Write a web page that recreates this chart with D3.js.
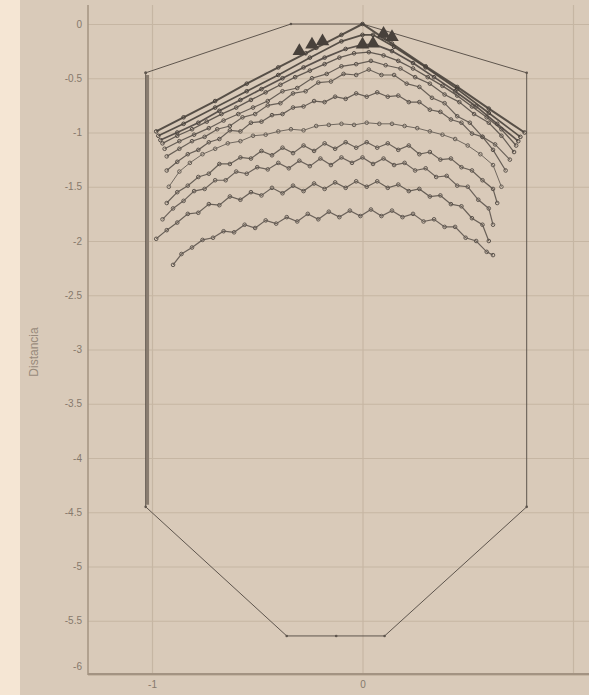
<!DOCTYPE html>
<html lang="es">

<head>
    <meta charset="UTF-8">
    <script src="https://d3js.org/d3.v7.min.js"></script>
    <title>perfiles</title>
    <style>
        body { margin: 0; background: #f5e6d4; }
        svg { display: block; }
    </style>
</head>

<body>
    <script>
        var w = 589,
            h = 695;

        // ticks
        var yTicks = [0, -0.5, -1, -1.5, -2, -2.5, -3, -3.5, -4, -4.5, -5, -5.5, -6];
        var xTicks = [-1, 0, 1];
        var xTickLabels = ["-1", "0", ""];
        var yTitulo = "Distancia";

        // contorno del molino
        var contorno = [[-1.03, -0.45], [-0.34, 0], [0, 0], [0.78, -0.45], [0.78, -4.45], [0.105, -5.64],
            [-0.125, -5.64], [-0.36, -5.64], [-1.03, -4.45], [-1.03, -0.45]];
        var manto = [[-1.021, -0.47], [-1.021, -4.43]];

        // perfiles medidos
        var serieA = [[-0.98, -0.99], [-0.85, -0.86], [-0.7, -0.71], [-0.55, -0.55], [-0.4, -0.4], [-0.27, -0.27],
            [-0.22, -0.22], [-0.1, -0.1], [0, 0], [0.1, -0.13], [0.14, -0.18], [0.3, -0.39], [0.45, -0.58],
            [0.6, -0.78], [0.77, -1.0]];
        var serieB = [[-0.97, -1.03], [-0.85, -0.92], [-0.7, -0.77], [-0.55, -0.62], [-0.4, -0.47], [-0.25, -0.31],
            [-0.1, -0.16], [0, -0.1], [0.05, -0.1], [0.15, -0.21], [0.3, -0.4], [0.45, -0.6], [0.6, -0.82],
            [0.75, -1.04]];
        var serieC = [[-0.96, -1.07], [-0.88, -1.0], [-0.78, -0.91], [-0.68, -0.8], [-0.58, -0.7], [-0.48, -0.6],
            [-0.38, -0.5], [-0.28, -0.4], [-0.18, -0.31], [-0.08, -0.23], [0, -0.19], [0.06, -0.19],
            [0.14, -0.25], [0.24, -0.36], [0.34, -0.49], [0.44, -0.62], [0.54, -0.76], [0.64, -0.92],
            [0.74, -1.08]];
        var serieD = [[-0.95, -1.1], [-0.88, -1.03], [-0.81, -0.97], [-0.74, -0.9], [-0.67, -0.83], [-0.6, -0.77],
            [-0.53, -0.7], [-0.46, -0.63], [-0.39, -0.56], [-0.32, -0.49], [-0.25, -0.43], [-0.18, -0.37],
            [-0.11, -0.31], [-0.04, -0.27], [0.03, -0.26], [0.1, -0.29], [0.17, -0.34], [0.24, -0.41],
            [0.31, -0.49], [0.38, -0.57], [0.45, -0.66], [0.52, -0.76], [0.59, -0.86], [0.66, -0.97],
            [0.73, -1.12]];
        var serieE = [[-0.94, -1.15], [-0.87, -1.08], [-0.8, -1.02], [-0.73, -0.96], [-0.66, -0.89], [-0.59, -0.83],
            [-0.52, -0.77], [-0.45, -0.71], [-0.38, -0.62], [-0.31, -0.59], [-0.24, -0.5], [-0.17, -0.46],
            [-0.1, -0.39], [-0.03, -0.37], [0.04, -0.34], [0.11, -0.38], [0.18, -0.41], [0.25, -0.49],
            [0.32, -0.55], [0.39, -0.65], [0.46, -0.72], [0.53, -0.83], [0.6, -0.91], [0.66, -1.03],
            [0.72, -1.18]];
        var serieF = [[-0.93, -1.22], [-0.87, -1.15], [-0.81, -1.08], [-0.75, -1.04], [-0.69, -0.97], [-0.63, -0.94],
            [-0.57, -0.86], [-0.51, -0.83], [-0.45, -0.75], [-0.39, -0.73], [-0.33, -0.64], [-0.27, -0.62],
            [-0.21, -0.54], [-0.15, -0.53], [-0.09, -0.46], [-0.03, -0.47], [0.03, -0.42], [0.09, -0.47],
            [0.15, -0.47], [0.21, -0.55], [0.27, -0.58], [0.33, -0.68], [0.39, -0.73], [0.45, -0.85],
            [0.51, -0.91], [0.57, -1.04], [0.63, -1.11], [0.7, -1.25]];
        var serieG = [[-0.93, -1.35], [-0.88, -1.27], [-0.83, -1.2], [-0.78, -1.16], [-0.73, -1.09], [-0.68, -1.06],
            [-0.63, -0.98], [-0.58, -0.99], [-0.53, -0.91], [-0.48, -0.9], [-0.43, -0.84], [-0.38, -0.83],
            [-0.33, -0.77], [-0.28, -0.76], [-0.23, -0.71], [-0.18, -0.72], [-0.13, -0.67], [-0.08, -0.69],
            [-0.03, -0.64], [0.02, -0.67], [0.07, -0.63], [0.12, -0.67], [0.17, -0.66], [0.22, -0.72],
            [0.27, -0.72], [0.32, -0.79], [0.37, -0.81], [0.42, -0.88], [0.47, -0.91], [0.52, -1.01],
            [0.57, -1.04], [0.62, -1.16], [0.68, -1.35]];
        var serieH = [[-0.92, -1.5], [-0.87, -1.36], [-0.82, -1.28], [-0.76, -1.2], [-0.7, -1.15], [-0.64, -1.1],
            [-0.58, -1.08], [-0.52, -1.03], [-0.46, -1.02], [-0.4, -0.99], [-0.34, -0.97], [-0.28, -0.98],
            [-0.22, -0.94], [-0.16, -0.93], [-0.1, -0.92], [-0.04, -0.93], [0.02, -0.91], [0.08, -0.92],
            [0.14, -0.92], [0.2, -0.94], [0.26, -0.96], [0.32, -0.99], [0.38, -1.02], [0.44, -1.06],
            [0.5, -1.12], [0.56, -1.2], [0.62, -1.3], [0.66, -1.5]];
        var serieI = [[-0.93, -1.65], [-0.88, -1.55], [-0.83, -1.49], [-0.78, -1.41], [-0.73, -1.38], [-0.68, -1.29],
            [-0.63, -1.29], [-0.58, -1.23], [-0.53, -1.24], [-0.48, -1.17], [-0.43, -1.21], [-0.38, -1.14],
            [-0.33, -1.19], [-0.28, -1.12], [-0.23, -1.17], [-0.18, -1.1], [-0.13, -1.15], [-0.08, -1.09],
            [-0.03, -1.14], [0.02, -1.09], [0.07, -1.14], [0.12, -1.1], [0.17, -1.16], [0.22, -1.12],
            [0.27, -1.2], [0.32, -1.18], [0.37, -1.25], [0.42, -1.24], [0.47, -1.32], [0.52, -1.35],
            [0.57, -1.44], [0.62, -1.52], [0.64, -1.65]];
        var serieJ = [[-0.95, -1.8], [-0.9, -1.7], [-0.85, -1.63], [-0.8, -1.54], [-0.75, -1.52], [-0.7, -1.44],
            [-0.65, -1.44], [-0.6, -1.36], [-0.55, -1.38], [-0.5, -1.32], [-0.45, -1.34], [-0.4, -1.28],
            [-0.35, -1.33], [-0.3, -1.26], [-0.25, -1.31], [-0.2, -1.24], [-0.15, -1.3], [-0.1, -1.23],
            [-0.05, -1.28], [0, -1.23], [0.05, -1.29], [0.1, -1.24], [0.15, -1.3], [0.2, -1.28],
            [0.25, -1.35], [0.3, -1.33], [0.35, -1.41], [0.4, -1.4], [0.45, -1.49], [0.5, -1.5],
            [0.55, -1.62], [0.6, -1.7], [0.62, -1.85]];
        var serieK = [[-0.98, -1.98], [-0.93, -1.9], [-0.88, -1.83], [-0.83, -1.75], [-0.78, -1.74], [-0.73, -1.66],
            [-0.68, -1.67], [-0.63, -1.59], [-0.58, -1.62], [-0.53, -1.55], [-0.48, -1.58], [-0.43, -1.51],
            [-0.38, -1.56], [-0.33, -1.49], [-0.28, -1.54], [-0.23, -1.47], [-0.18, -1.52], [-0.13, -1.46],
            [-0.08, -1.51], [-0.03, -1.45], [0.02, -1.5], [0.07, -1.45], [0.12, -1.51], [0.17, -1.48],
            [0.22, -1.54], [0.27, -1.52], [0.32, -1.59], [0.37, -1.58], [0.42, -1.66], [0.47, -1.68],
            [0.52, -1.79], [0.57, -1.85], [0.6, -2.0]];
        var serieL = [[-0.9, -2.22], [-0.86, -2.12], [-0.81, -2.06], [-0.76, -1.99], [-0.71, -1.97], [-0.66, -1.91],
            [-0.61, -1.92], [-0.56, -1.85], [-0.51, -1.88], [-0.46, -1.81], [-0.41, -1.84], [-0.36, -1.78],
            [-0.31, -1.82], [-0.26, -1.75], [-0.21, -1.8], [-0.16, -1.73], [-0.11, -1.78], [-0.06, -1.72],
            [-0.01, -1.77], [0.04, -1.71], [0.09, -1.77], [0.14, -1.72], [0.19, -1.78], [0.24, -1.75],
            [0.29, -1.82], [0.34, -1.8], [0.39, -1.87], [0.44, -1.87], [0.49, -1.97], [0.54, -2.0],
            [0.59, -2.1], [0.62, -2.13]];

        // marcas triangulares
        var triangulos = [[-0.3, -0.25], [-0.24, -0.19], [-0.19, -0.16], [0.1, -0.09], [0.14, -0.12], [0, -0.19],
            [0.05, -0.18]];

        var series = [serieA, serieB, serieC, serieD, serieE, serieF, serieG, serieH, serieI, serieJ, serieK, serieL];
        // estilos por serie (aparte de los datos)
        var colores = ["#48413b", "#48413b", "#4c4540", "#544c46", "#59514a", "#5c544d", "#5a524b", "#655d55",
            "#5c544d", "#5f5750", "#5c544d", "#5f5750"];
        var grosor = [2, 1.7, 1.7, 1.3, 1.2, 1.2, 1.2, 1, 1.2, 1.2, 1.2, 1.2];

        var x = d3.scaleLinear().domain([-1, 1]).range([152, 573]);
        var y = d3.scaleLinear().domain([-6, 0]).range([675, 24]);
        var x0 = 88, yTop = 5, yBot = 674;

        var svg = d3.select("body").append("svg").attr("width", w).attr("height", h);

        // fondo del panel
        svg.append("rect").attr("x", 20).attr("y", 0).attr("width", w - 20).attr("height", h)
            .attr("fill", "#d9cab9");

        ejes();
        dibujar();

        function ejes() {
            var gy = svg.append("g").attr("transform", "translate(" + x0 + ",0)")
                .call(d3.axisLeft(y).tickValues(yTicks).tickSize(-(w - x0)).tickPadding(6)
                    .tickFormat(function(d) { return String(d); }));
            gy.select(".domain").remove();
            gy.selectAll("line").attr("stroke", "#c6b6a3").attr("stroke-width", 1.2);
            gy.selectAll("text").attr("fill", "#86796c").attr("font-size", 10)
                .attr("font-family", "Liberation Sans, Arial, sans-serif");
            // el -6 se sube un poco
            gy.selectAll(".tick").filter(function(d) { return d === -6; }).select("text").attr("dy", "-0.55em");

            var gx = svg.append("g").attr("transform", "translate(0," + yBot + ")")
                .call(d3.axisBottom(x).tickValues(xTicks).tickSize(-(yBot - yTop)).tickPadding(7)
                    .tickFormat(function(d, i) { return xTickLabels[i]; }));
            gx.select(".domain").remove();
            gx.selectAll("line").attr("stroke", "#c6b6a3").attr("stroke-width", 1.2);
            gx.selectAll("text").attr("fill", "#86796c").attr("font-size", 10)
                .attr("font-family", "Liberation Sans, Arial, sans-serif");

            // lineas de ejes
            svg.append("line").attr("x1", x0).attr("x2", x0).attr("y1", yTop).attr("y2", yBot + 1)
                .attr("stroke", "#a39382").attr("stroke-width", 1.5);
            svg.append("line").attr("x1", x0).attr("x2", w).attr("y1", yBot).attr("y2", yBot)
                .attr("stroke", "#a39382").attr("stroke-width", 2);

            svg.append("text").attr("transform", "translate(38,352) rotate(-90)")
                .attr("text-anchor", "middle").attr("fill", "#988a7c").attr("font-size", 12)
                .attr("font-family", "Liberation Sans, Arial, sans-serif").text(yTitulo);
        }

        function dibujar() {
            var linea = d3.line().x(function(d) { return x(d[0]); }).y(function(d) { return y(d[1]); });

            svg.append("path").datum(manto).attr("d", linea).attr("fill", "none")
                .attr("stroke", "#8a7d70").attr("stroke-width", 3);
            svg.append("path").datum(contorno).attr("d", linea).attr("fill", "none")
                .attr("stroke", "#5e554d").attr("stroke-width", 1);
            svg.selectAll(".pc").data(contorno).enter().append("circle").attr("class", "pc")
                .attr("cx", function(d) { return x(d[0]); }).attr("cy", function(d) { return y(d[1]); })
                .attr("r", 1.3).attr("fill", "#5e554d");

            // perfiles, del mas bajo al mas alto
            for (var i = series.length - 1; i >= 0; i--) {
                var g = svg.append("g");
                g.append("path").datum(series[i]).attr("d", linea).attr("fill", "none")
                    .attr("stroke", colores[i]).attr("stroke-width", grosor[i]).attr("opacity", 0.9);
                g.selectAll("circle").data(series[i]).enter().append("circle")
                    .attr("cx", function(d) { return x(d[0]); }).attr("cy", function(d) { return y(d[1]); })
                    .attr("r", 1.8).attr("fill", "none").attr("stroke", colores[i]).attr("stroke-width", 1);
            }

            svg.selectAll(".tri").data(triangulos).enter().append("path").attr("class", "tri")
                .attr("d", d3.symbol().type(d3.symbolTriangle).size(80))
                .attr("transform", function(d) { return "translate(" + x(d[0]) + "," + y(d[1]) + ")"; })
                .attr("fill", "#48413b");
        }
    </script>
</body>

</html>
